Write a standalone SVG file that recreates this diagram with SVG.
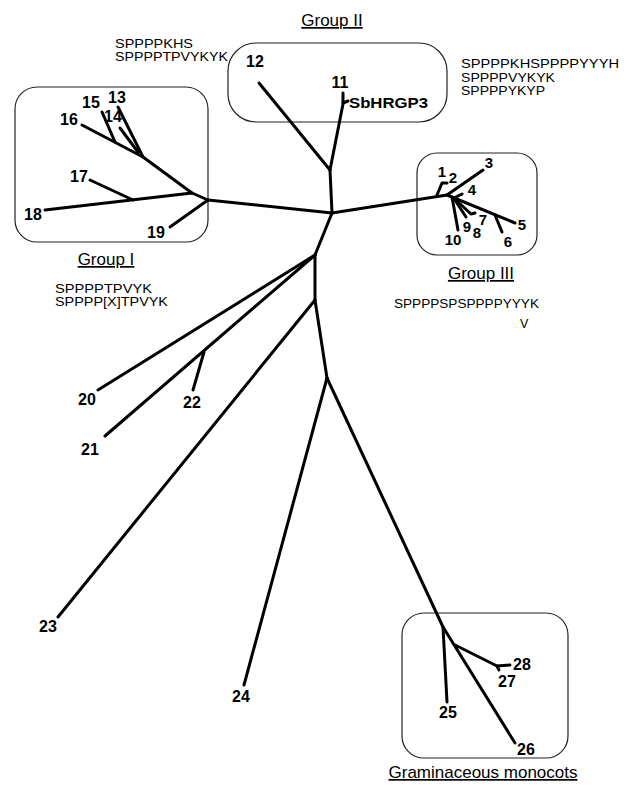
<svg xmlns="http://www.w3.org/2000/svg" width="628" height="794" viewBox="0 0 628 794">
<style>
.box{fill:none;stroke:#222;stroke-width:1.2}
.br{fill:none;stroke:#000;stroke-width:3;stroke-linecap:round;stroke-linejoin:round}
.lb{font-family:"Liberation Sans",Arial,sans-serif;font-weight:bold;font-size:16px;text-anchor:middle;fill:#000}
.lb3{font-family:"Liberation Sans",Arial,sans-serif;font-weight:bold;font-size:15px;text-anchor:middle;fill:#000}
.seq{font-family:"Liberation Sans",Arial,sans-serif;font-size:12.5px;fill:#000}
.grp{font-family:"Liberation Sans",Arial,sans-serif;font-size:17px;fill:#000;text-anchor:middle;text-decoration:underline}
</style>
<rect width="628" height="794" fill="#fff"/>
<g id="groups">
  <rect class="box" x="15" y="87" width="193" height="155" rx="22"/>
  <rect class="box" x="228" y="43" width="219" height="79" rx="28"/>
  <rect class="box" x="417" y="153" width="120" height="102" rx="20"/>
  <rect class="box" x="402" y="613" width="166" height="145" rx="22"/>
</g>
<g id="connectors">
  <path class="br" d="M332,213 L208,200"/>
  <path class="br" d="M332,213 L447,195"/>
  <path class="br" d="M332,213 L330,170"/>
  <path class="br" d="M330,170 L259,83"/>
  <path class="br" d="M330,170 L343,104 L343,93"/>
  <path class="br" d="M343,103 L348,101"/>
  <path class="br" d="M332,213 L315,255"/>
  <path class="br" d="M315,255 L98,390"/>
  <path class="br" d="M315,255 L105,436"/>
  <path class="br" d="M204,352 L193,390"/>
  <path class="br" d="M315,255 L315,300"/>
  <path class="br" d="M315,300 L58,617"/>
  <path class="br" d="M315,300 L327,378"/>
  <path class="br" d="M327,378 L244,685"/>
  <path class="br" d="M327,378 L443,627"/>
  <path class="br" d="M443,627 L447,702"/>
  <path class="br" d="M443,627 L515,743"/>
  <path class="br" d="M455,645 L497,666 L510,665"/>
  <path class="br" d="M497,666 L499,670"/>
  <path class="br" d="M208,200 L170,227"/>
  <path class="br" d="M208,200 L192,193 L45,210"/>
  <path class="br" d="M133,200 L90,180"/>
  <path class="br" d="M192,193 L143,157"/>
  <path class="br" d="M143,157 L118,107"/>
  <path class="br" d="M143,157 L82,125"/>
  <path class="br" d="M115,142 L102,112"/>
  <path class="br" d="M138,152 L120,128"/>
  <path class="br" d="M437,195 L442,183 L447,183"/>
  <path class="br" d="M447,195 L483,170"/>
  <path class="br" d="M447,195 L515,223"/>
  <path class="br" d="M495,215 L502,232"/>
  <path class="br" d="M454,198 L462,194"/>
  <path class="br" d="M452,197 L458,230"/>
  <path class="br" d="M455,200 L466,217"/>
  <path class="br" d="M457,201 L471,214 L475,213"/>
</g>
<g id="node-labels">
  <text class="lb" x="117" y="103">13</text>
  <text class="lb" x="91" y="108">15</text>
  <text class="lb" x="113" y="122">14</text>
  <text class="lb" x="69" y="125">16</text>
  <text class="lb" x="79" y="182">17</text>
  <text class="lb" x="33" y="220">18</text>
  <text class="lb" x="156" y="238">19</text>
  <text class="lb" x="255" y="67">12</text>
  <text class="lb" x="340" y="88">11</text>
  <text class="lb3" x="442" y="177">1</text>
  <text class="lb3" x="453" y="183">2</text>
  <text class="lb3" x="489" y="168">3</text>
  <text class="lb3" x="472" y="195">4</text>
  <text class="lb3" x="522" y="230">5</text>
  <text class="lb3" x="508" y="247">6</text>
  <text class="lb3" x="483" y="225">7</text>
  <text class="lb3" x="477" y="238">8</text>
  <text class="lb3" x="467" y="232">9</text>
  <text class="lb3" x="453" y="245">10</text>
  <text class="lb" x="87" y="405">20</text>
  <text class="lb" x="90" y="455">21</text>
  <text class="lb" x="192" y="408">22</text>
  <text class="lb" x="48" y="632">23</text>
  <text class="lb" x="241" y="702">24</text>
  <text class="lb" x="448" y="718">25</text>
  <text class="lb" x="526" y="755">26</text>
  <text class="lb" x="507" y="687">27</text>
  <text class="lb" x="522" y="670">28</text>
  <text x="349" y="108" font-family="Liberation Sans, Arial, sans-serif" font-weight="bold" font-size="15" textLength="79" lengthAdjust="spacingAndGlyphs">SbHRGP3</text>
</g>
<g id="group-labels">
  <text class="grp" x="332" y="26">Group II</text>
  <text class="grp" x="106" y="265">Group I</text>
  <text class="grp" x="481" y="279">Group III</text>
  <text class="grp" x="483" y="778">Graminaceous monocots</text>
</g>
<g id="sequences">
  <text class="seq" x="115" y="48" textLength="78" lengthAdjust="spacingAndGlyphs">SPPPPKHS</text>
  <text class="seq" x="115" y="60.5" textLength="113" lengthAdjust="spacingAndGlyphs">SPPPPTPVYKYK</text>
  <text class="seq" x="461" y="68" textLength="158" lengthAdjust="spacingAndGlyphs">SPPPPKHSPPPPYYYH</text>
  <text class="seq" x="461" y="81.5" textLength="94" lengthAdjust="spacingAndGlyphs">SPPPPVYKYK</text>
  <text class="seq" x="461" y="95" textLength="84" lengthAdjust="spacingAndGlyphs">SPPPPYKYP</text>
  <text class="seq" x="55" y="293" textLength="97" lengthAdjust="spacingAndGlyphs">SPPPPTPVYK</text>
  <text class="seq" x="55" y="305.5" textLength="113" lengthAdjust="spacingAndGlyphs">SPPPP[X]TPVYK</text>
  <text class="seq" x="394" y="308" textLength="145" lengthAdjust="spacingAndGlyphs">SPPPPSPSPPPPYYYK</text>
  <text class="seq" x="520" y="328">V</text>
</g>
</svg>
